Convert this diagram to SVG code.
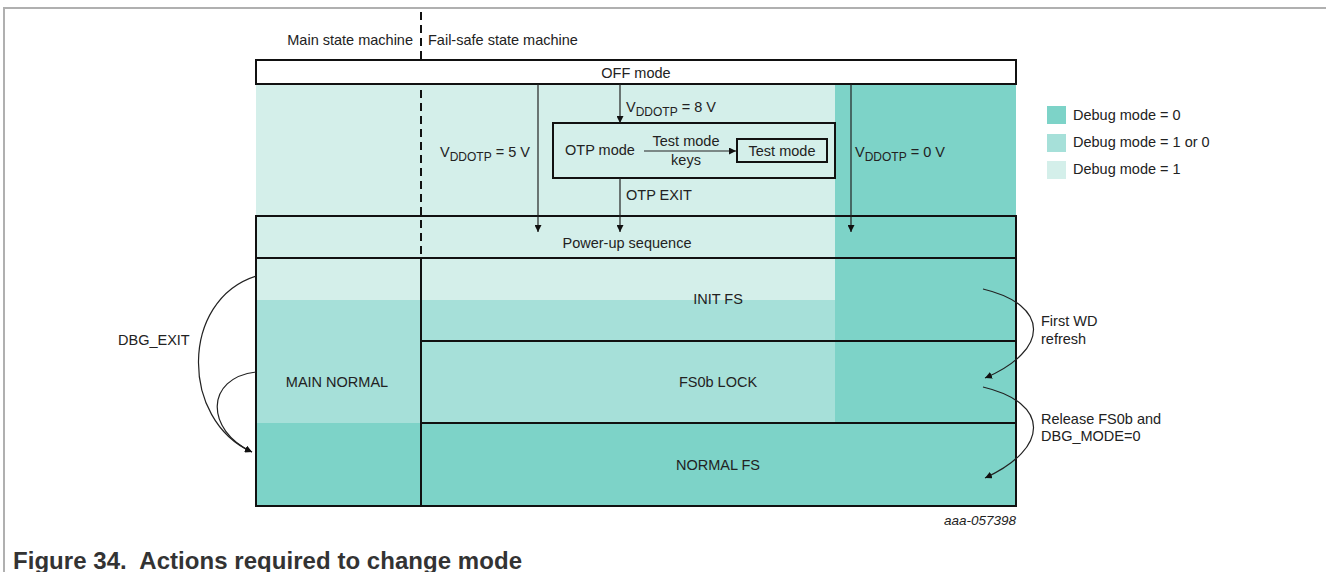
<svg xmlns="http://www.w3.org/2000/svg" width="1326" height="572" viewBox="0 0 1326 572">
<defs>
<style>
text{font-family:"Liberation Sans",Arial,sans-serif;font-size:14.5px;fill:#222}
.c{text-anchor:middle}
.sub{font-size:12px}
.id{font-size:13.5px;font-style:italic}
.cap{font-size:24px;font-weight:bold;fill:#333}
.box{fill:none;stroke:#111;stroke-width:2}
.th{stroke:#222;stroke-width:1.2;fill:none}
.dk{fill:#7dd3c8}.md{fill:#a6e0d9}.lt{fill:#d4efea}
</style>
<marker id="ah" viewBox="0 0 10 10" refX="10" refY="5" markerWidth="7" markerHeight="7" markerUnits="userSpaceOnUse" orient="auto"><path d="M0,0 L10,5 L0,10 z" fill="#111"/></marker>
</defs>
<rect width="1326" height="572" fill="#fff"/>
<path d="M4,572 V8 H1326" fill="none" stroke="#b0b0b0" stroke-width="2"/>
<g id="background">
<rect class="lt" x="256" y="84" width="579" height="132"/>
<rect class="dk" x="835" y="84" width="181" height="132"/>
<rect class="lt" x="256" y="216" width="579" height="42"/>
<rect class="dk" x="835" y="216" width="181" height="42"/>
<rect class="lt" x="256" y="258" width="579" height="42"/>
<rect class="md" x="256" y="300" width="579" height="123"/>
<rect class="dk" x="835" y="258" width="181" height="165"/>
<rect class="dk" x="256" y="423" width="760" height="83"/>
</g>
<g id="headers">
<text x="413" y="45" text-anchor="end">Main state machine</text>
<text x="428" y="45">Fail-safe state machine</text>
<line x1="421" y1="12" x2="421" y2="258" stroke="#111" stroke-width="2" stroke-dasharray="8,5"/>
</g>
<g id="off-mode">
<rect x="256" y="60" width="760" height="24" fill="#fff" stroke="#111" stroke-width="2"/>
<text class="c" x="636" y="78">OFF mode</text>
</g>
<g id="otp-mode">
<rect class="box" x="553" y="123" width="282" height="55"/>
<text x="565" y="155">OTP mode</text>
</g>
<g id="test-mode">
<rect class="box" x="737" y="139" width="90" height="23"/>
<text class="c" x="782" y="156">Test mode</text>
</g>
<g id="power-up">
<rect class="box" x="256" y="216" width="760" height="42"/>
<text class="c" x="627" y="248">Power-up sequence</text>
</g>
<g id="main-normal">
<rect class="box" x="256" y="258" width="165" height="248"/>
<text class="c" x="337" y="387">MAIN NORMAL</text>
</g>
<g id="init-fs">
<rect class="box" x="421" y="258" width="595" height="83"/>
<text class="c" x="718" y="304">INIT FS</text>
</g>
<g id="fs0b-lock">
<rect class="box" x="421" y="341" width="595" height="82"/>
<text class="c" x="718" y="387">FS0b LOCK</text>
</g>
<g id="normal-fs">
<rect class="box" x="421" y="423" width="595" height="83"/>
<text class="c" x="718" y="470">NORMAL FS</text>
</g>
<g id="connectors">
<line class="th" x1="538" y1="84" x2="538" y2="232" marker-end="url(#ah)"/>
<line class="th" x1="620" y1="84" x2="620" y2="123" marker-end="url(#ah)" stroke="#444"/>
<line class="th" x1="620" y1="178" x2="620" y2="232" marker-end="url(#ah)" stroke="#444"/>
<line class="th" x1="851" y1="84" x2="851" y2="232" marker-end="url(#ah)"/>
<line class="th" x1="644" y1="151" x2="736" y2="151" marker-end="url(#ah)"/>
<path class="th" d="M256,276 C180,300 180,420 252,452" marker-end="url(#ah)"/>
<path class="th" d="M256,372 C205,378 205,430 252,452" marker-end="url(#ah)"/>
<path class="th" d="M983,289 C1050,305 1050,350 985,378" marker-end="url(#ah)"/>
<path class="th" d="M983,387 C1050,403 1050,448 985,478" marker-end="url(#ah)"/>
</g>
<g id="labels">
<text x="626" y="112">V<tspan class="sub" dy="4">DDOTP</tspan><tspan dy="-4"> = 8 V</tspan></text>
<text x="440" y="157">V<tspan class="sub" dy="4">DDOTP</tspan><tspan dy="-4"> = 5 V</tspan></text>
<text x="855" y="157">V<tspan class="sub" dy="4">DDOTP</tspan><tspan dy="-4"> = 0 V</tspan></text>
<text class="c" x="686" y="146">Test mode</text>
<text class="c" x="686" y="165">keys</text>
<text x="626" y="200">OTP EXIT</text>
<text x="118" y="345">DBG_EXIT</text>
<text x="1041" y="326">First WD</text>
<text x="1041" y="344">refresh</text>
<text x="1041" y="424">Release FS0b and</text>
<text x="1041" y="441">DBG_MODE=0</text>
</g>
<g id="legend">
<rect class="dk" x="1047" y="106" width="19" height="18"/>
<text x="1073" y="120">Debug mode = 0</text>
<rect class="md" x="1047" y="134" width="19" height="18"/>
<text x="1073" y="147">Debug mode = 1 or 0</text>
<rect class="lt" x="1047" y="161" width="19" height="18"/>
<text x="1073" y="174">Debug mode = 1</text>
</g>
<text class="id" x="1016" y="525" text-anchor="end">aaa-057398</text>
<text class="cap" x="13" y="569" textLength="509">Figure 34.&#160; Actions required to change mode</text>
</svg>
